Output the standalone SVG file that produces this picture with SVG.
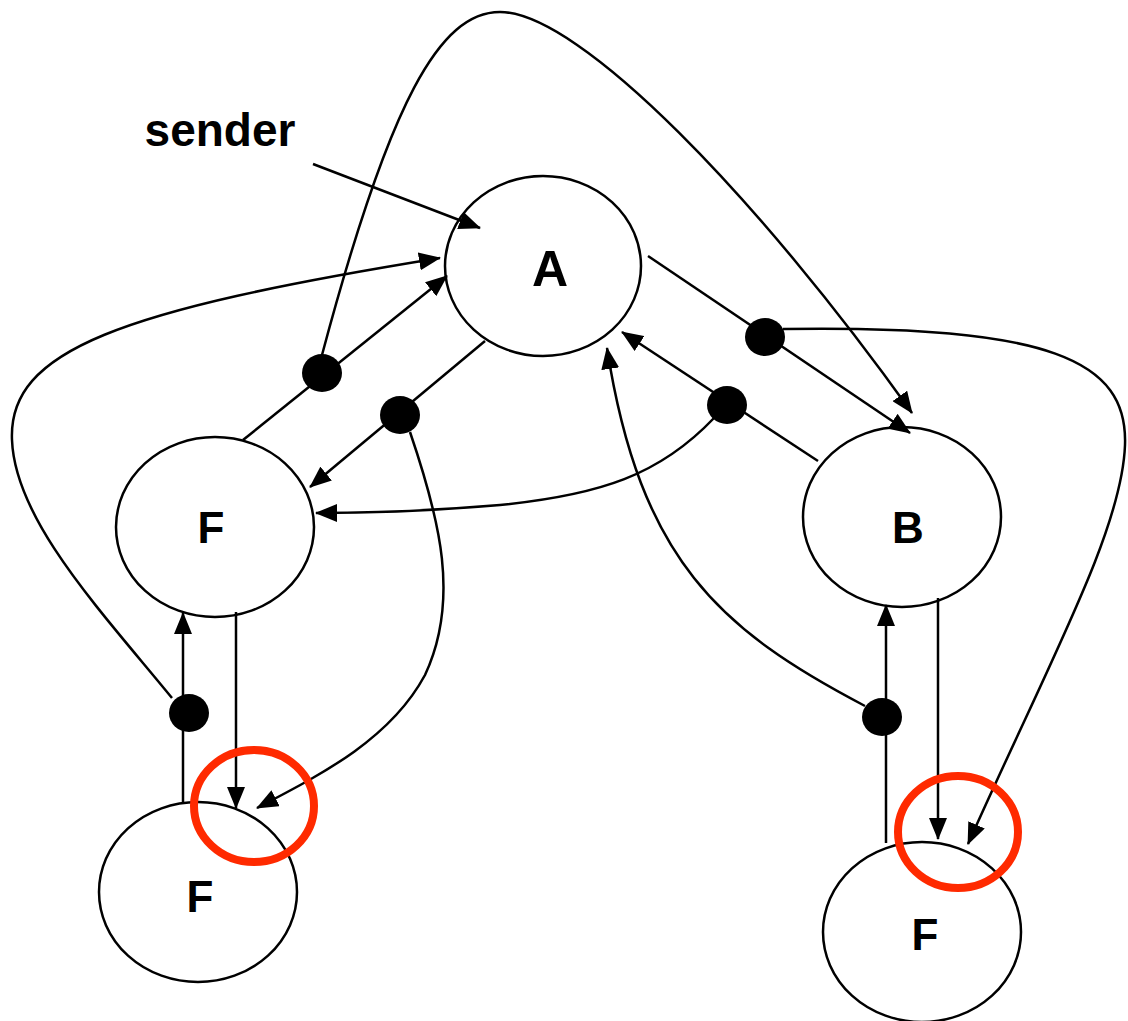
<svg xmlns="http://www.w3.org/2000/svg" width="1128" height="1021" viewBox="0 0 1128 1021">
<style>
.node{fill:#fff;stroke:#000;stroke-width:2.5}
.lbl{font-family:"Liberation Sans",Arial,sans-serif;font-weight:bold;fill:#000;text-anchor:middle}
.c{fill:none;stroke:#000;stroke-width:2.5}
.a{marker-end:url(#arr)}
.dot{fill:#000}
.hl{fill:none;stroke:#ff2a00;stroke-width:8}
</style>
<defs>
<marker id="arr" markerUnits="userSpaceOnUse" markerWidth="22" markerHeight="18" refX="21" refY="9" orient="auto">
<path d="M0,0 L22,9 L0,18 z" fill="#000"/>
</marker>
</defs>
<rect width="1128" height="1021" fill="#fff"/>
<g id="nodes">
<g id="node-A"><ellipse class="node" cx="543" cy="266" rx="98" ry="90"/><text class="lbl" x="550" y="286" font-size="50">A</text></g>
<g id="node-F1"><ellipse class="node" cx="215" cy="527" rx="99" ry="90"/><text class="lbl" x="211" y="543" font-size="44">F</text></g>
<g id="node-B"><ellipse class="node" cx="902" cy="517" rx="99" ry="90"/><text class="lbl" x="908" y="543" font-size="44">B</text></g>
<g id="node-F2"><ellipse class="node" cx="198" cy="892" rx="99" ry="90"/><text class="lbl" x="200" y="912" font-size="44">F</text></g>
<g id="node-F3"><ellipse class="node" cx="922" cy="932" rx="99" ry="90"/><text class="lbl" x="925" y="950" font-size="44">F</text></g>
<g id="label-sender"><text class="lbl" x="220" y="146" font-size="46">sender</text></g>
</g>
<g id="connectors">
<path class="c a" d="M313,164 L480,228"/>
<path class="c a" d="M322,355 C390,100 440,12 500,12 C580,12 760,200 912,413"/>
<path class="c a" d="M243,440 L447,276"/>
<path class="c a" d="M485,341 L310,487"/>
<path class="c a" d="M410,432 C440,520 460,600 425,675 C390,740 320,775 257,808"/>
<path class="c a" d="M172,698 C100,610 15,520 12,440 C8,350 120,310 440,258"/>
<path class="c a" d="M183,802 L183,613"/>
<path class="c a" d="M236,612 L236,808"/>
<path class="c a" d="M648,256 L910,433"/>
<path class="c a" d="M783,329 C1050,325 1128,360 1125,445 C1122,530 1050,660 968,844"/>
<path class="c a" d="M818,461 L622,332"/>
<path class="c a" d="M714,418 C660,475 600,495 500,505 C430,511 370,513 316,513"/>
<path class="c a" d="M865,706 C720,630 640,560 607,348"/>
<path class="c a" d="M886,843 L886,605"/>
<path class="c a" d="M938,598 L938,839"/>
</g>
<g id="dots">
<ellipse class="dot" cx="322" cy="373" rx="20" ry="19"/>
<ellipse class="dot" cx="400" cy="415" rx="20" ry="19"/>
<ellipse class="dot" cx="765" cy="337" rx="20" ry="19"/>
<ellipse class="dot" cx="727" cy="405" rx="20" ry="19"/>
<ellipse class="dot" cx="189" cy="713" rx="20" ry="19"/>
<ellipse class="dot" cx="882" cy="717" rx="20" ry="19"/>
</g>
<g id="highlights">
<ellipse class="hl" cx="254" cy="806" rx="60" ry="56"/>
<ellipse class="hl" cx="958" cy="832" rx="60" ry="56"/>
</g>
</svg>
